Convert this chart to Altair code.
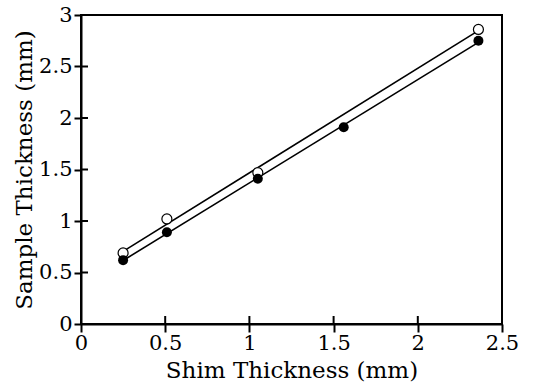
import altair as alt
import pandas as pd

# Measured sample thickness against shim thickness, two sample sets
shim_open = [0.25, 0.51, 1.05, 2.36]
sample_open = [0.69, 1.02, 1.47, 2.86]
shim_filled = [0.25, 0.51, 1.05, 1.56, 2.36]
sample_filled = [0.62, 0.89, 1.41, 1.91, 2.75]

x_ticks = [0, 0.5, 1, 1.5, 2, 2.5]
y_ticks = [0, 0.5, 1, 1.5, 2, 2.5, 3]

W, H = 421, 309
FONT = "DejaVu Serif"

df_open = pd.DataFrame({"shim": shim_open, "sample": sample_open})
df_filled = pd.DataFrame({"shim": shim_filled, "sample": sample_filled})

xs = alt.Scale(domain=[0, 2.5], nice=False, zero=False)
ys = alt.Scale(domain=[0, 3], nice=False, zero=False)

x_axis = alt.Axis(values=x_ticks, format="~g", title="Shim Thickness (mm)",
                  grid=False, domainColor="black", domainWidth=2,
                  tickColor="black", tickWidth=2, tickSize=8, labelFlush=False,
                  labelFont=FONT, labelFontSize=21, labelColor="black",
                  labelPadding=0, titleFont=FONT, titleFontSize=23,
                  titleFontWeight="normal", titleColor="black", titlePadding=6)
y_axis = alt.Axis(values=y_ticks, format="~g", title="Sample Thickness (mm)",
                  grid=False, domainColor="black", domainWidth=2,
                  tickColor="black", tickWidth=2, tickSize=7, labelFlush=False,
                  labelFont=FONT, labelFontSize=21, labelColor="black",
                  labelPadding=2, titleFont=FONT, titleFontSize=23,
                  titleFontWeight="normal", titleColor="black", titlePadding=2)

X = alt.X("shim:Q", scale=xs, axis=x_axis)
Y = alt.Y("sample:Q", scale=ys, axis=y_axis)

fit_open = alt.Chart(df_open).transform_regression("shim", "sample").mark_line(
    color="black", strokeWidth=1.6).encode(x=alt.X("shim:Q", scale=xs), y=alt.Y("sample:Q", scale=ys))
fit_filled = alt.Chart(df_filled).transform_regression("shim", "sample").mark_line(
    color="black", strokeWidth=1.6).encode(x=alt.X("shim:Q", scale=xs), y=alt.Y("sample:Q", scale=ys))

pts_open = alt.Chart(df_open).mark_point(
    shape="circle", size=100, filled=True, fill="white", stroke="black",
    strokeWidth=1.2, opacity=1).encode(x=X, y=Y)
pts_filled = alt.Chart(df_filled).mark_point(
    shape="circle", size=100, filled=True, color="black", opacity=1).encode(
    x=alt.X("shim:Q", scale=xs), y=alt.Y("sample:Q", scale=ys))

# inward halves of the cross-style ticks
df_xt = pd.DataFrame({"t": x_ticks[1:-1]})
df_yt = pd.DataFrame({"t": y_ticks[1:-1]})
xt_in = alt.Chart(df_xt).mark_rule(color="black", strokeWidth=2).encode(
    x=alt.X("t:Q", scale=xs), y=alt.value(H), y2=alt.value(H - 8))
yt_in = alt.Chart(df_yt).mark_rule(color="black", strokeWidth=2).encode(
    y=alt.Y("t:Q", scale=ys), x=alt.value(0), x2=alt.value(7))

chart = alt.layer(fit_open, fit_filled, xt_in, yt_in, pts_open, pts_filled).properties(
    width=W, height=H,
    padding={"left": 81, "top": 15, "right": 36, "bottom": 62},
    autosize=alt.AutoSizeParams(type="none"),
    background="white",
).configure_view(stroke="black", strokeWidth=2)

chart.save("out.html", embed_options={"renderer": "svg", "actions": False})
